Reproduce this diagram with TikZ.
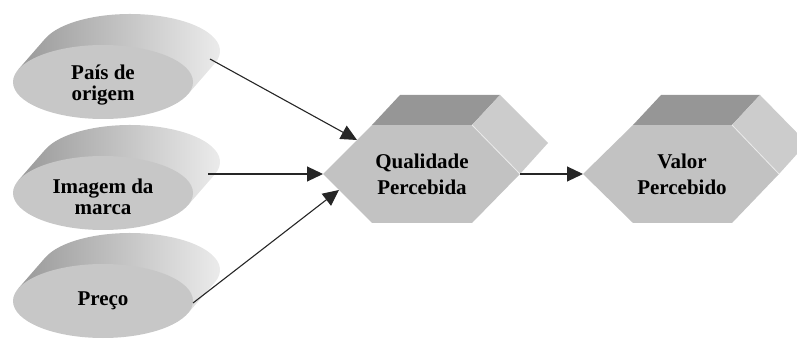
\documentclass[tikz,border=0pt]{standalone}
\usepackage{fontspec}
\setmainfont{Liberation Serif}
\usetikzlibrary{calc,arrows.meta}
\tikzset{>={Triangle[length=16pt,width=15pt]}}
\tikzset{
  disklado/.style={left color=black!40,right color=black!6},
  diskfrente/.style={fill=black!22},
  facefrente/.style={fill=black!24},
  facetopo/.style={fill=black!41},
  facelado/.style={fill=black!20},
  rotulo/.style={font=\bfseries\fontsize{21}{21}\selectfont,align=center,inner sep=0pt},
  rotulohex/.style={font=\bfseries\fontsize{21}{26}\selectfont,align=center,inner sep=0pt},
  seta/.style={->,draw=black!85,line width=1.1pt}
}

\begin{document}
\begin{tikzpicture}[x=1pt,y=-1pt]
\useasboundingbox (0,0) rectangle (797,347);
\clip (0,0) rectangle (797,347);
% discos da esquerda
\coordinate (c1) at (103,82);
\coordinate (c2) at (103,193);
\coordinate (c3) at (103,301);
\shade[disklado] ($(c1)+(199.7:90 and 37)$) -- ++(27,-31)
  arc[start angle=199.7,end angle=379.7,x radius=90,y radius=37]
  -- ($(c1)+(19.7:90 and 37)$) -- cycle;
\fill[diskfrente] (c1) ellipse [x radius=90,y radius=37];
\shade[disklado] ($(c2)+(199.7:90 and 37)$) -- ++(27,-31)
  arc[start angle=199.7,end angle=379.7,x radius=90,y radius=37]
  -- ($(c2)+(19.7:90 and 37)$) -- cycle;
\fill[diskfrente] (c2) ellipse [x radius=90,y radius=37];
\shade[disklado] ($(c3)+(199.7:90 and 37)$) -- ++(27,-31)
  arc[start angle=199.7,end angle=379.7,x radius=90,y radius=37]
  -- ($(c3)+(19.7:90 and 37)$) -- cycle;
\fill[diskfrente] (c3) ellipse [x radius=90,y radius=37];
\node[rotulo] (pais) at ($(c1)+(0,3)$) {País de\\origem};
\node[rotulo] (imagem) at ($(c2)+(0,4)$) {Imagem da\\marca};
\node[rotulo] (preco) at (c3) {Preço};
% hexagonos
\fill[facefrente] (323,174) -- (372,125) -- (472,125)
  -- (520,174) -- (472,223) -- (372,223) -- cycle;
\fill[facetopo] (372,125) -- (400,95) -- (500,95) -- (472,125) -- cycle;
\fill[facelado] (472,125) -- (500,95) -- (548,143) -- (520,174) -- cycle;
\draw[black!8,line width=.8pt] (472,125) -- (520,174);
\fill[facefrente] (583,174) -- (633,125) -- (732,125)
  -- (779,174) -- (732,223) -- (633,223) -- cycle;
\fill[facetopo] (633,125) -- (661,95) -- (760,95) -- (732,125) -- cycle;
\fill[facelado] (732,125) -- (760,95) -- (807,143) -- (779,174) -- cycle;
\draw[black!8,line width=.8pt] (732,125) -- (779,174);
\node[rotulohex] (qualidade) at (422,174) {Qualidade\\Percebida};
\node[rotulohex] (valor) at (682,174) {Valor\\Percebido};
% pontas das setas
\coordinate (pais-s) at (210,59);
\coordinate (imagem-s) at (208,174);
\coordinate (preco-s) at (193,303);
\coordinate (qual-a) at (357,140);
\coordinate (qual-b) at (323,174);
\coordinate (qual-c) at (339,190);
\coordinate (qual-s) at (520,174);
\coordinate (valor-e) at (583,174);
\draw[seta] (pais-s) -- (qual-a);
\draw[seta] (imagem-s) -- (qual-b);
\draw[seta] (preco-s) -- (qual-c);
\draw[seta] (qual-s) -- (valor-e);
\end{tikzpicture}
\end{document}
